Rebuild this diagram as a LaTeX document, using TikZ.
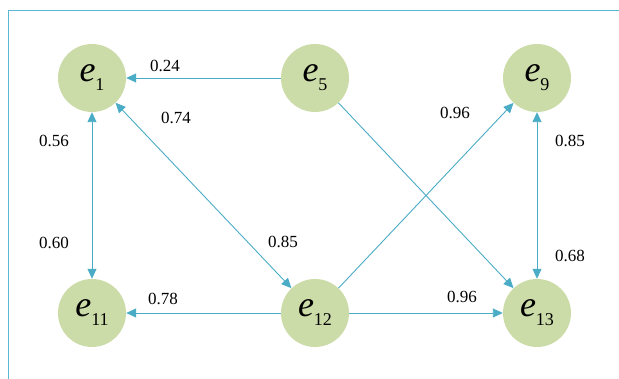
\documentclass[tikz,border=0pt]{standalone}
\usepackage{fontspec}
\setmainfont{Liberation Serif}
\usetikzlibrary{arrows.meta}
\definecolor{linecol}{RGB}{75,172,198}
\definecolor{framecol}{RGB}{91,184,212}
\definecolor{nodefill}{RGB}{204,220,168}
\newcommand\elab[1]{{\fontsize{36}{36}\selectfont\itshape e\/}\raisebox{-9pt}{\fontsize{18}{18}\selectfont #1}}
\tikzset{
  enode/.style={circle, fill=nodefill, minimum size=68pt, inner sep=0pt},
  conn/.style={draw=linecol, line width=0.9pt, -{Triangle[length=10pt,width=9pt]}},
  dconn/.style={draw=linecol, line width=0.9pt, {Triangle[length=10pt,width=9pt]}-{Triangle[length=10pt,width=9pt]}},
  wlab/.style={font=\fontsize{17}{17}\selectfont, inner sep=0pt},
  frameline/.style={draw=framecol, line width=1.4pt}
}
\begin{document}
\begin{tikzpicture}[x=1pt,y=-1pt]
\useasboundingbox (0,0) rectangle (619,379);
\coordinate (fb) at (8.5,379);
\coordinate (fc) at (8.5,10.5);
\coordinate (fr) at (619,10.5);
\draw[frameline] (fb) -- (fc) -- (fr);

\node[enode] (e1) at (92,78) {\elab{1}};
\node[enode] (e5) at (315,78) {\elab{5}};
\node[enode] (e9) at (537,78) {\elab{9}};
\node[enode] (e11) at (92,313) {\elab{11}};
\node[enode] (e12) at (315,313) {\elab{12}};
\node[enode] (e13) at (537,313) {\elab{13}};

\draw[conn] (e5) -- (e1);
\draw[dconn] (e1) -- (e12);
\draw[dconn] (e1) -- (e11);
\draw[conn] (e5) -- (e13);
\draw[conn] (e12) -- (e9);
\draw[dconn] (e9) -- (e13);
\draw[conn] (e12) -- (e11);
\draw[conn] (e12) -- (e13);

\node[wlab] (l1) at (165,66) {0.24};
\node[wlab] (l2) at (176,118) {0.74};
\node[wlab] (l3) at (54,141) {0.56};
\node[wlab] (l4) at (54,243) {0.60};
\node[wlab] (l5) at (283,242) {0.85};
\node[wlab] (l6) at (455,113) {0.96};
\node[wlab] (l7) at (570,141) {0.85};
\node[wlab] (l8) at (570,256) {0.68};
\node[wlab] (l9) at (163,299) {0.78};
\node[wlab] (l10) at (462,297) {0.96};
\end{tikzpicture}
\end{document}
